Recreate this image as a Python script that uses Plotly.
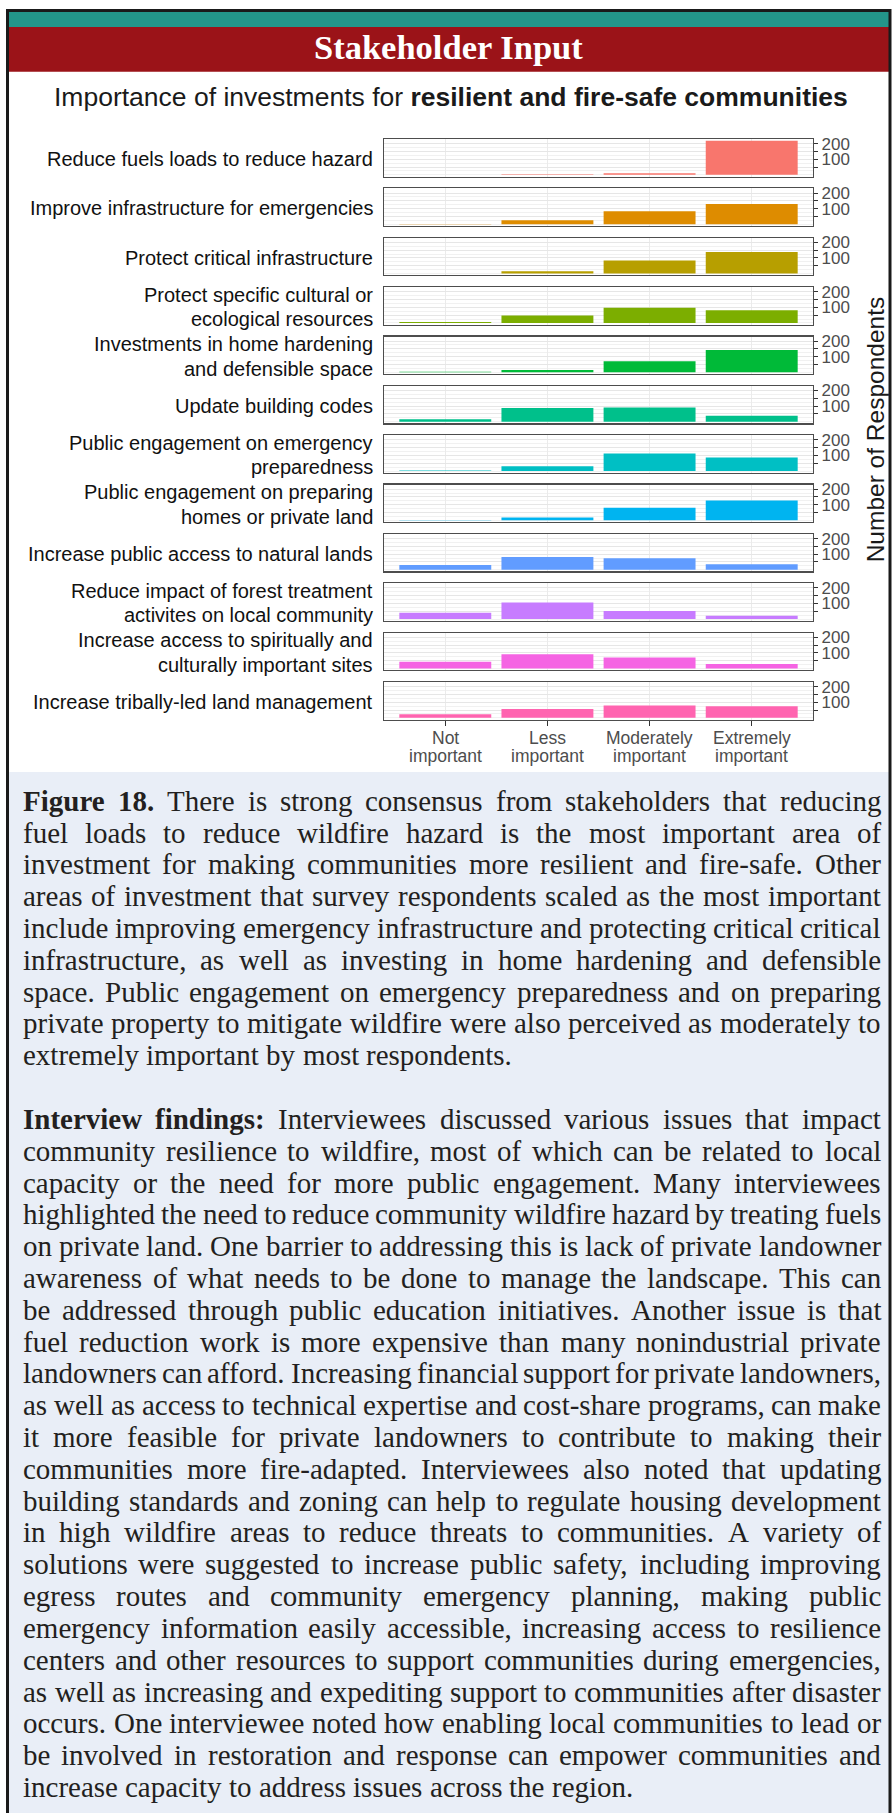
import plotly.graph_objects as go

W, H = 896, 1813

# ---------------- data ----------------
categories = ["Not important", "Less important", "Moderately important", "Extremely important"]
cat_line1 = ["Not", "Less", "Moderately", "Extremely"]
cat_line2 = ["important", "important", "important", "important"]

items = [
    ["Reduce fuels loads to reduce hazard"],
    ["Improve infrastructure for emergencies"],
    ["Protect critical infrastructure"],
    ["Protect specific cultural or", "ecological resources"],
    ["Investments in home hardening", "and defensible space"],
    ["Update building codes"],
    ["Public engagement on emergency", "preparedness"],
    ["Public engagement on preparing", "homes or private land"],
    ["Increase public access to natural lands"],
    ["Reduce impact of forest treatment", "activites on local community"],
    ["Increase access to spiritually and", "culturally important sites"],
    ["Increase tribally-led land management"],
]
not_important        = [1, 1, 0, 6, 3, 15, 3, 3, 31, 40, 43, 23]
less_important       = [3, 25, 15, 47, 15, 87, 30, 19, 81, 106, 91, 57]
moderately_important = [10, 83, 83, 98, 70, 91, 113, 81, 73, 52, 70, 79]
extremely_important  = [218, 129, 138, 81, 143, 38, 87, 128, 35, 21, 28, 74]
colors = ["#F8766D", "#DE8C00", "#B79F00", "#7CAE00", "#00BA38", "#00C08B",
          "#00BFC4", "#00B4F0", "#619CFF", "#C77CFF", "#F564E3", "#FF64B0"]
y_tickvals = [50, 100, 150, 200]
y_ticktext = ["", "100", "", "200"]
y_title = "Number of Respondents"
header_text = "Stakeholder Input"
chart_title = "Importance of investments for <b>resilient and fire-safe communities</b>"

para1 = [
    "*Figure* *18.* There is strong consensus from stakeholders that reducing",
    "fuel loads to reduce wildfire hazard is the most important area of",
    "investment for making communities more resilient and fire-safe. Other",
    "areas of investment that survey respondents scaled as the most important",
    "include improving emergency infrastructure and protecting critical critical",
    "infrastructure, as well as investing in home hardening and defensible",
    "space. Public engagement on emergency preparedness and on preparing",
    "private property to mitigate wildfire were also perceived as moderately to",
    "extremely important by most respondents.",
]
para2 = [
    "*Interview* *findings:* Interviewees discussed various issues that impact",
    "community resilience to wildfire, most of which can be related to local",
    "capacity or the need for more public engagement. Many interviewees",
    "highlighted the need to reduce community wildfire hazard by treating fuels",
    "on private land. One barrier to addressing this is lack of private landowner",
    "awareness of what needs to be done to manage the landscape. This can",
    "be addressed through public education initiatives. Another issue is that",
    "fuel reduction work is more expensive than many nonindustrial private",
    "landowners can afford. Increasing financial support for private landowners,",
    "as well as access to technical expertise and cost-share programs, can make",
    "it more feasible for private landowners to contribute to making their",
    "communities more fire-adapted. Interviewees also noted that updating",
    "building standards and zoning can help to regulate housing development",
    "in high wildfire areas to reduce threats to communities. A variety of",
    "solutions were suggested to increase public safety, including improving",
    "egress routes and community emergency planning, making public",
    "emergency information easily accessible, increasing access to resilience",
    "centers and other resources to support communities during emergencies,",
    "as well as increasing and expediting support to communities after disaster",
    "occurs. One interviewee noted how enabling local communities to lead or",
    "be involved in restoration and response can empower communities and",
    "increase capacity to address issues across the region.",
]

# ---------------- font metrics (Times / Liberation Serif, per 1000 em) ----------------
REG = dict(zip("abcdefghijklmnopqrstuvwxyz",
               [444, 500, 444, 500, 444, 333, 500, 500, 278, 278, 500, 278, 778,
                500, 500, 500, 500, 333, 389, 278, 500, 500, 722, 500, 500, 444]))
REG.update(dict(zip("ABCDEFGHIJKLMNOPQRSTUVWXYZ",
                    [722, 667, 667, 722, 611, 556, 722, 722, 333, 389, 722, 611, 889,
                     722, 722, 556, 722, 667, 556, 611, 722, 722, 944, 722, 722, 611])))
REG.update({",": 250, ".": 250, ":": 278, ";": 278, "-": 333, " ": 250, "'": 333})
REG.update({d: 500 for d in "0123456789"})
BOLD = dict(zip("abcdefghijklmnopqrstuvwxyz",
                [500, 556, 444, 556, 444, 333, 500, 556, 278, 333, 556, 278, 833,
                 556, 500, 556, 556, 444, 389, 333, 556, 500, 722, 500, 500, 444]))
BOLD.update(dict(zip("ABCDEFGHIJKLMNOPQRSTUVWXYZ",
                     [722, 667, 722, 722, 667, 611, 778, 778, 389, 500, 778, 667, 944,
                      722, 778, 611, 778, 722, 556, 667, 722, 722, 1000, 722, 722, 667])))
BOLD.update({",": 250, ".": 250, ":": 333, "-": 333, " ": 250})
BOLD.update({d: 500 for d in "0123456789"})

SERIF = "Liberation Serif, Times New Roman, serif"
SANS = "Liberation Sans, Arial, Helvetica, sans-serif"


def px(x):
    return x / W


def py(y):
    return 1 - y / H


fig = go.Figure()

# ---------------- facet panels ----------------
n = len(items)
top0, step, ph = 134.5, 49.5, 37.5
xl, xr = 384, 813
values = list(zip(not_important, less_important, moderately_important, extremely_important))

for i in range(n):
    k = i + 1
    sfx = "" if k == 1 else str(k)
    fig.add_trace(go.Bar(
        x=categories, y=list(values[i]), width=0.9,
        marker=dict(color=colors[i], line=dict(width=0)),
        xaxis="x" + sfx, yaxis="y" + sfx, showlegend=False, hoverinfo="skip",
    ))
    t = top0 + step * i
    last = (i == n - 1)
    fig.layout["xaxis" + sfx] = dict(
        domain=[px(xl), px(xr)], anchor="y" + sfx, type="category",
        categoryorder="array", categoryarray=categories, range=[-0.6, 3.6],
        showgrid=True, gridcolor="#ebebeb", gridwidth=1.3,
        showline=True, mirror=True, linecolor="#4d4d4d", linewidth=1.2,
        ticks="outside" if last else "", ticklen=5, tickcolor="#333333",
        showticklabels=False, zeroline=False, fixedrange=True,
    )
    fig.layout["yaxis" + sfx] = dict(
        domain=[py(t + ph), py(t)], anchor="x" + sfx, side="right",
        range=[-10.9, 228.9], tickmode="array", tickvals=y_tickvals, ticktext=y_ticktext,
        ticks="outside", ticklen=4, tickcolor="#333333", tickwidth=1,
        tickfont=dict(family=SANS, size=17, color="#4d4d4d"),
        showgrid=True, gridcolor="#e6e6e6", gridwidth=1,
        minor=dict(tickmode="linear", tick0=0, dtick=25, showgrid=True,
                   gridcolor="#f1f1f1", gridwidth=1, ticks=""),
        showline=True, mirror=True, linecolor="#4d4d4d", linewidth=1.2,
        zeroline=False, fixedrange=True,
    )
    # facet label on the left
    cy = t + ph / 2
    lines = items[i]
    offs = [0] if len(lines) == 1 else [-12.3, 12.3]
    for ln, off in zip(lines, offs):
        fig.add_annotation(x=px(374), y=py(cy + off + 1), xref="paper", yref="paper",
                           text=ln, showarrow=False, xanchor="right", yanchor="middle",
                           borderpad=0, font=dict(family=SANS, size=20, color="#111111"))

# x tick labels (two lines) under the last panel
last_x = "x" + str(n)
for j in range(len(categories)):
    fig.add_annotation(x=j, y=py(735), xref=last_x, yref="paper", text=cat_line1[j],
                       showarrow=False, xanchor="center", yanchor="middle", borderpad=0,
                       font=dict(family=SANS, size=17.5, color="#4d4d4d"))
    fig.add_annotation(x=j, y=py(753), xref=last_x, yref="paper", text=cat_line2[j],
                       showarrow=False, xanchor="center", yanchor="middle", borderpad=0,
                       font=dict(family=SANS, size=17.5, color="#4d4d4d"))

# y axis title
fig.add_annotation(x=px(875), y=py(top0 + (step * (n - 1) + ph) / 2), xref="paper", yref="paper",
                   text=y_title, showarrow=False, textangle=-90, xanchor="center",
                   yanchor="middle", font=dict(family=SANS, size=24.5, color="#1a1a1a"))

# chart title
fig.add_annotation(x=px(451), y=py(92), xref="paper", yref="paper", text=chart_title,
                   showarrow=False, xanchor="center", yanchor="middle",
                   font=dict(family=SANS, size=26.5, color="#1a1a1a"))

# header
fig.add_annotation(x=px(448), y=py(42), xref="paper", yref="paper", text="<b>" + header_text + "</b>",
                   showarrow=False, xanchor="center", yanchor="middle",
                   font=dict(family=SERIF, size=34.5, color="#ffffff"))

# ---------------- justified body text ----------------
FS = 29
TL, TR = 22, 880
LH = 31.9
Y0 = 798


def parse(line):
    out = []
    for w in line.split(" "):
        if w.startswith("*") and w.endswith("*") and len(w) > 2:
            out.append((w[1:-1], True))
        else:
            out.append((w, False))
    return out


def wwidth(word, bold):
    tbl = BOLD if bold else REG
    return sum(tbl.get(c, 500) for c in word) * FS / 1000.0


def place_paragraph(lines, slot0):
    for li, line in enumerate(lines):
        words = parse(line)
        widths = [wwidth(w, b) for w, b in words]
        natural_space = 250 * FS / 1000.0
        if li == len(lines) - 1 or len(words) == 1:
            gap = natural_space
        else:
            gap = (TR - TL - sum(widths)) / (len(words) - 1)
            gap = max(gap, 0.4 * natural_space)
        x = TL
        y = Y0 + LH * (slot0 + li)
        for (w, b), ww in zip(words, widths):
            fig.add_annotation(x=px(x), y=py(y), xref="paper", yref="paper",
                               text=("<b>%s</b>" % w) if b else w, showarrow=False,
                               xanchor="left", yanchor="middle", borderpad=0,
                               font=dict(family=SERIF, size=FS, color="#231f20"))
            x += ww + gap


place_paragraph(para1, 0)
place_paragraph(para2, len(para1) + 1)

# ---------------- page decoration ----------------
shapes = [
    dict(type="rect", xref="paper", yref="paper", x0=px(9), x1=px(889), y0=py(22), y1=py(7),
         fillcolor="#23968a", line=dict(width=0), layer="below"),
    dict(type="rect", xref="paper", yref="paper", x0=px(9), x1=px(889), y0=py(67), y1=py(22),
         fillcolor="#9b1318", line=dict(width=0), layer="below"),
    dict(type="rect", xref="paper", yref="paper", x0=px(9), x1=px(889), y0=py(H + 5), y1=py(769),
         fillcolor="#e9eef7", line=dict(width=0), layer="below"),
    dict(type="rect", xref="paper", yref="paper", x0=px(7.5), x1=px(890), y0=py(H + 10), y1=py(5.5),
         fillcolor="rgba(0,0,0,0)", line=dict(color="#1a1a1a", width=3), layer="above"),
]

fig.update_layout(
    width=W, height=H, margin=dict(l=0, r=0, t=0, b=0),
    paper_bgcolor="#ffffff", plot_bgcolor="#ffffff",
    bargap=0.1, shapes=shapes, showlegend=False,
)

fig.write_html("out.html",
               config={"displayModeBar": False, "staticPlot": True},
               post_script="document.body.style.margin='0';document.body.style.padding='0';"
                           "document.body.style.overflow='hidden';"
                           "document.documentElement.style.overflow='hidden';")
